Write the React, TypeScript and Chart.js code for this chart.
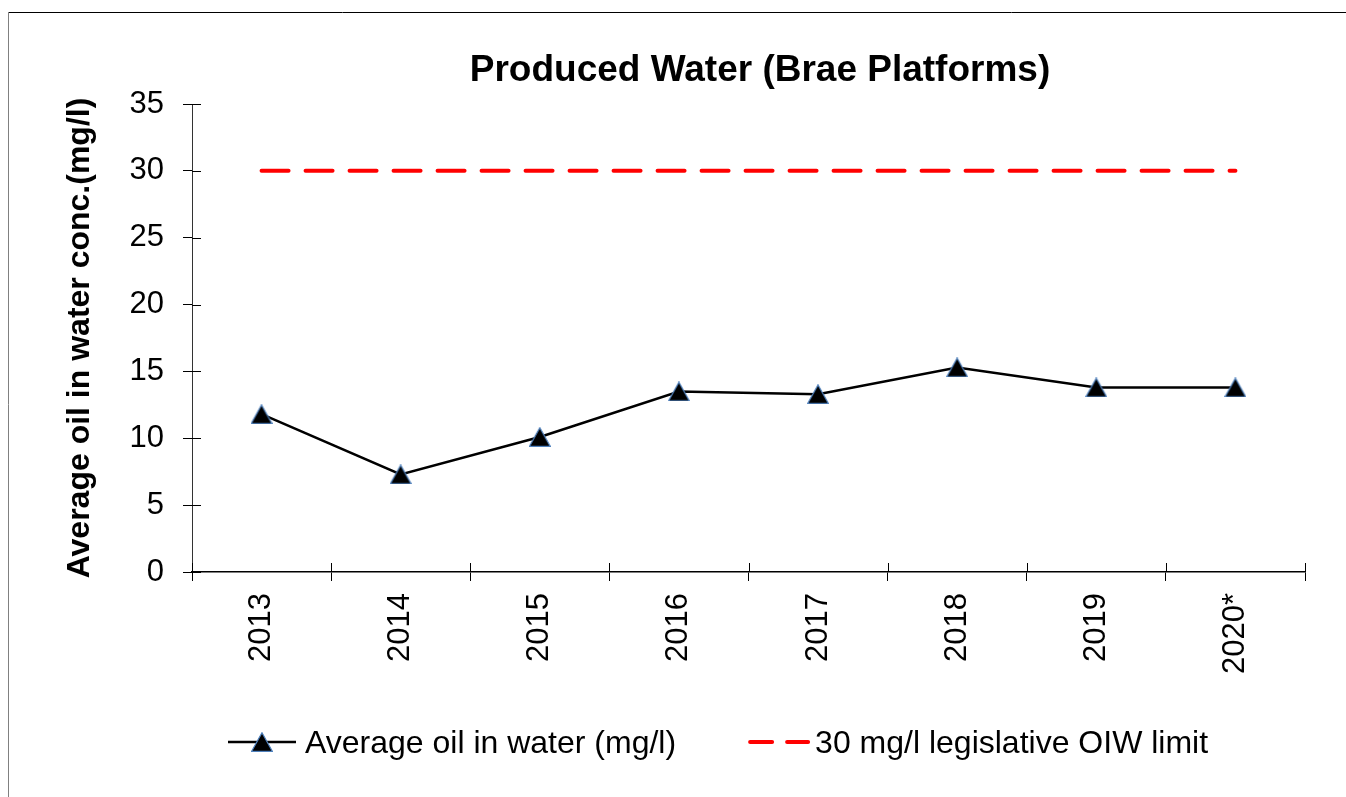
import React, { useEffect, useRef } from 'react';
import { Chart, registerables } from 'chart.js';

Chart.register(...registerables);

const categories = ['2013', '2014', '2015', '2016', '2017', '2018', '2019', '2020*'];
const avgOilInWater = [11.8, 7.3, 10.1, 13.5, 13.3, 15.3, 13.8, 13.8];
const oiwLimit = [30, 30, 30, 30, 30, 30, 30, 30];
const yMin = 0;
const yMax = 35;
const yStep = 5;
const seriesLabels = ['Average oil in water (mg/l)', '30 mg/l legislative OIW limit'];
const chartTitle = 'Produced Water (Brae Platforms)';
const yAxisTitle = 'Average oil in water conc.(mg/l)';

const FONT = '"Liberation Sans", Arial, sans-serif';
const MARKER_BORDER = '#4F81BD';
const LIMIT_RED = '#FF0000';

function makeTriangle(): HTMLCanvasElement {
  const c = document.createElement('canvas');
  c.width = 22;
  c.height = 20;
  const g = c.getContext('2d')!;
  g.beginPath();
  g.moveTo(11, 0.7);
  g.lineTo(21.3, 19.3);
  g.lineTo(0.7, 19.3);
  g.closePath();
  g.fillStyle = '#000';
  g.fill();
  g.strokeStyle = MARKER_BORDER;
  g.lineWidth = 1.2;
  g.stroke();
  return c;
}

export default function App() {
  const ref = useRef<HTMLCanvasElement | null>(null);

  useEffect(() => {
    if (!ref.current) return;
    const tri = makeTriangle();

    const decor = {
      id: 'decor',
      afterDraw(chart: any) {
        const ctx = chart.ctx as CanvasRenderingContext2D;
        const { left, right, bottom } = chart.chartArea;
        const line = (x1: number, y1: number, x2: number, y2: number) => {
          ctx.beginPath();
          ctx.moveTo(x1, y1);
          ctx.lineTo(x2, y2);
          ctx.stroke();
        };
        ctx.save();
        // frame
        ctx.lineWidth = 1;
        ctx.strokeStyle = '#000';
        line(8, 12.5, chart.width, 12.5);
        ctx.strokeStyle = '#808080';
        line(8.5, 12, 8.5, chart.height);

        // inner halves of cross ticks
        const ys = chart.scales.y;
        ctx.strokeStyle = '#000';
        ctx.lineWidth = 1;
        ys.ticks.forEach((_t: any, i: number) => {
          const py = Math.round(ys.getPixelForTick(i)) + 0.5;
          line(left, py, left + 9, py);
        });
        const xs = chart.scales.x;
        const n = categories.length;
        for (let i = 0; i <= n; i++) {
          let px: number;
          if (i === 0) px = left;
          else if (i === n) px = right;
          else px = (xs.getPixelForValue(i - 1) + xs.getPixelForValue(i)) / 2;
          px = Math.round(px) + 0.5;
          line(px, bottom - 9, px, bottom);
        }

        // title
        ctx.fillStyle = '#000';
        ctx.font = `bold 37px ${FONT}`;
        ctx.textAlign = 'center';
        ctx.textBaseline = 'alphabetic';
        ctx.fillText(chartTitle, 760, 81);

        // legend
        const ly = 742;
        ctx.font = `32px ${FONT}`;
        ctx.textAlign = 'left';
        ctx.strokeStyle = '#000';
        ctx.lineWidth = 2.5;
        line(228, ly, 296, ly);
        ctx.drawImage(tri, 262 - tri.width / 2, ly - tri.height / 2);
        ctx.fillText(seriesLabels[0], 305, 753);
        const w1 = ctx.measureText(seriesLabels[0]).width;
        const s2 = 305 + w1 + 72;
        ctx.strokeStyle = LIMIT_RED;
        ctx.lineWidth = 4;
        ctx.lineCap = 'round';
        ctx.setLineDash([22, 15]);
        line(s2 + 2, ly, s2 + 60, ly);
        ctx.setLineDash([]);
        ctx.fillText(seriesLabels[1], s2 + 67, 753);
        ctx.restore();
      },
    };

    const chart = new Chart(ref.current, {
      type: 'line',
      data: {
        labels: categories,
        datasets: [
          {
            label: seriesLabels[0],
            data: avgOilInWater,
            borderColor: '#000',
            backgroundColor: '#000',
            borderWidth: 2.5,
            pointStyle: tri as any,
            pointRadius: 11,
            pointHoverRadius: 11,
            tension: 0,
            order: 1,
          },
          {
            label: seriesLabels[1],
            data: oiwLimit,
            borderColor: LIMIT_RED,
            backgroundColor: LIMIT_RED,
            borderWidth: 4,
            borderDash: [27, 17],
            borderCapStyle: 'round',
            pointRadius: 0,
            pointHoverRadius: 0,
            tension: 0,
            order: 2,
          },
        ],
      },
      options: {
        responsive: false,
        animation: false,
        events: [],
        layout: { padding: { left: 0, right: 41, top: 104, bottom: 0 } },
        plugins: {
          legend: { display: false },
          title: { display: false },
          tooltip: { enabled: false },
        },
        scales: {
          x: {
            type: 'category',
            offset: true,
            border: { display: true, color: '#000', width: 1.5 },
            grid: {
              display: true,
              offset: true,
              drawOnChartArea: false,
              drawTicks: true,
              tickLength: 9,
              color: '#000',
              lineWidth: 1,
            },
            ticks: {
              autoSkip: false,
              minRotation: 90,
              maxRotation: 90,
              padding: 12,
              color: '#000',
              font: { family: FONT, size: 31 },
            },
            afterFit(scale: any) {
              scale.height = 225;
            },
          },
          y: {
            min: yMin,
            max: yMax,
            border: { display: true, color: '#333', width: 1 },
            grid: {
              display: true,
              drawOnChartArea: false,
              drawTicks: true,
              tickLength: 9,
              color: '#000',
              lineWidth: 1,
            },
            ticks: {
              stepSize: yStep,
              padding: 19,
              color: '#000',
              font: { family: FONT, size: 31 },
            },
            title: {
              display: true,
              text: yAxisTitle,
              color: '#000',
              font: { family: FONT, size: 32, weight: 'bold' },
              padding: { top: 61, bottom: 0 },
            },
            afterFit(scale: any) {
              scale.width = 192;
            },
          },
        },
      },
      plugins: [decor],
    });

    return () => chart.destroy();
  }, []);

  return (
    <div style={{ position: 'absolute', left: 0, top: 0, width: 1346, height: 797, background: '#fff' }}>
      <canvas ref={ref} width={1346} height={797} style={{ display: 'block' }} />
    </div>
  );
}
